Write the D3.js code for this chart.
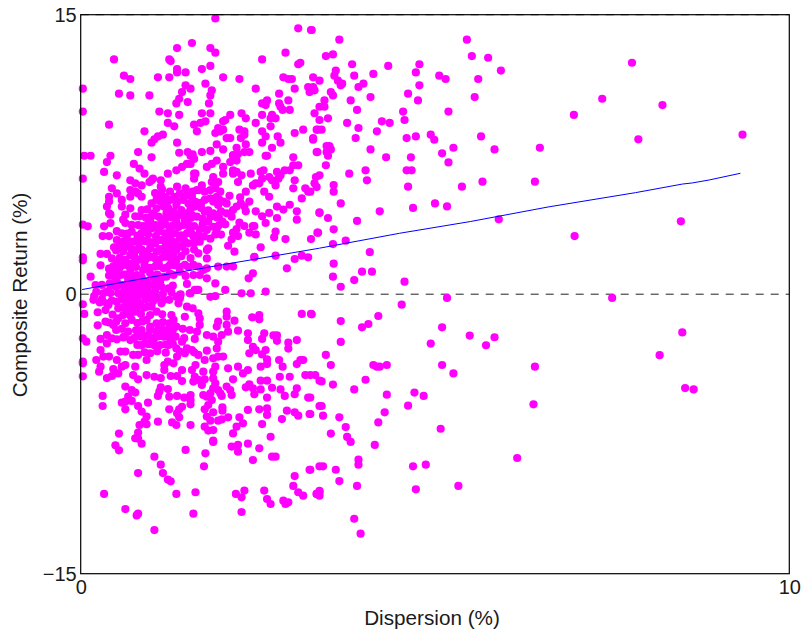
<!DOCTYPE html>
<html>
<head>
<meta charset="utf-8">
<script src="https://cdn.jsdelivr.net/npm/d3@7"></script>
<style>
    body { margin: 0; background: #fff; }
    text { font-family: "Liberation Sans", Arial, sans-serif; fill: #1a1a1a; }
</style>
</head>
<body>
<div id="chart"></div>
<script>
// [dispersion %, composite return %]
var points_upper = [[1.90,14.80],[3.07,14.27],[3.25,14.18],[1.57,13.48],[1.36,13.21],[1.83,13.21],[1.90,12.96],[.47,12.6],[1.25,12.6],[1.27,12.51],[2.56,12.6],[2.89,12.96],[3.10,12.42],[3.07,12.34],[1.83,12.25],[1.71,12.08],[1.36,12.08],[1.36,11.9],[1.48,11.9],[.61,11.73],[.70,11.55],[1.09,11.64],[1.25,11.64],[2.01,11.64],[2.24,11.55],[2.86,11.64],[2.93,11.55],[2.98,11.55],[3.28,11.64],[3.37,11.46],[.03,11.03],[1.48,11.21],[1.55,11.03],[1.76,11.3],[2.47,11.03],[3.02,11.03],[3.21,11.12],[3.28,11.12],[3.23,10.85],[3.30,10.94],[1.85,10.94],[1.43,10.85],[.54,10.76],[.70,10.67],[.97,10.67],[1.83,10.67],[2.80,10.76],[1.39,10.49],[1.51,10.31],[1.81,10.24],[1.35,10.24],[2.93,10.4],[2.63,10.4],[2.56,10.24],[2.61,10.15],[2.80,10.24],[2.82,10.06],[2.85,9.89],[2.95,9.89],[3.37,10.06],[.03,9.8],[1.11,9.8],[1.23,9.71],[1.39,9.62],[1.71,9.71],[1.83,9.71],[2.11,9.62],[2.27,9.71],[2.33,9.44],[2.56,9.62],[2.70,9.62],[2.68,9.44],[2.75,9.44],[3.30,9.71],[3.37,9.35],[.40,9.1],[1.23,9.19],[1.32,9.01],[1.60,9.1],[1.69,9.19],[1.76,9.28],[2.01,9.28],[2.04,9.35],[2.47,9.19],[2.68,9.01],[1.94,8.92],[2.01,8.83],[1.90,8.65],[1.97,8.74],[.90,8.74],[1.64,8.74],[2.24,8.83],[2.31,8.74],[2.56,8.74],[2.61,8.47],[3.14,8.83],[3.02,8.65],[3.33,8.83],[2.78,8.47],[3.28,8.38],[3.28,8.29],[1.16,8.56],[1.09,8.47],[1.04,8.31],[1.0,8.13],[1.36,8.13],[2.06,8.38],[2.11,8.38],[2.26,8.38],[2.31,8.56],[2.56,8.13],[2.82,8.13],[1.92,8.04],[2.33,8.04],[2.01,7.77],[2.20,7.86],[2.70,7.86],[1.39,7.59],[1.51,7.63],[1.58,7.51],[1.71,7.63],[1.83,7.69],[.81,7.63],[3.33,7.63],[2.15,7.47],[2.31,7.63],[2.38,7.63]];

var points_mid = [[.05,7.43],[.14,7.43],[.42,7.43],[.37,7.09],[1.0,7.35],[.75,6.99],[.33,6.56],[.51,6.38],[.83,6.74],[.9,6.47],[1.23,6.47],[.03,6.2],[1.55,7.43],[1.6,7.26],[1.5,6.99],[1.43,6.83],[1.35,6.65],[1.55,6.99],[1.6,6.47],[1.62,6.47],[1.6,6.2],[1.78,6.83],[1.85,6.99],[1.92,7.17],[2.01,6.83],[2.11,7.09],[2.15,7.43],[2.22,7.52],[2.61,7.43],[2.2,7.17],[2.63,7.43],[3.0,7.35],[3.0,6.92],[3.07,6.92],[2.88,6.65],[2.95,6.65],[2.77,6.56],[2.82,6.38],[2.54,6.56],[2.4,6.47],[2.58,6.65],[2.66,6.29],[2.7,6.11],[2.75,5.84],[2.79,6.2],[3.02,6.11],[3.0,5.68],[3.17,5.68],[3.21,5.5],[3.12,5.14],[2.95,4.8],[2.86,4.54],[2.77,4.7],[3.05,4.45],[3.05,4.0],[2.66,4.36],[2.77,4.09],[2.56,4.18],[2.61,3.82],[2.47,4.45],[2.33,4.45],[2.31,4.7],[2.38,4.97],[2.26,4.87],[2.33,5.5],[2.59,5.5],[2.66,5.23],[2.47,5.95],[2.43,5.84],[2.52,5.95],[2.56,6.2],[2.27,6.38],[2.15,6.65],[2.01,6.47],[1.87,6.29],[1.85,6.02],[2.22,6.02],[2.15,6.47],[2.2,6.56],[1.94,6.02],[1.71,5.84],[1.48,5.68],[1.36,5.77],[1.67,5.59],[1.58,5.5],[1.0,6.11],[1.02,6.2],[1.13,6.11],[1.13,5.77],[.97,6.02],[.7,6.11],[.77,5.95],[.86,5.84],[.7,5.59],[.44,5.68],[.51,5.41],[.77,5.5],[.81,5.41],[.86,5.23],[.7,5.23],[.4,5.23],[.58,5.06],[.4,4.97],[.37,4.7],[.58,4.7],[.7,4.61],[.4,4.34],[.42,4.27],[.86,4.52],[.77,4.18],[.83,4.18],[.63,4.27],[.6,4.0],[.42,3.82],[.63,3.82],[.33,3.64],[.03,3.73],[.1,3.64],[.51,3.38],[.31,3.12],[.4,3.12],[.47,2.52],[.28,2.16],[.37,2.16],[.03,1.98],[.03,1.82],[.28,1.55],[.4,1.37],[.44,1.19],[.14,.94],[.21,.49],[.49,1.12]];

var points_core = [[1.0,4.87],[1.07,5.06],[1.14,5.32],[1.19,5.23],[1.26,5.5],[1.33,5.23],[1.4,5.41],[1.5,5.32],[1.57,5.23],[1.64,5.59],[1.75,5.5],[1.83,5.59],[1.9,5.68],[1.97,5.5],[1.92,5.23],[1.83,5.14],[1.87,4.97],[1.94,4.79],[2.01,4.97],[2.06,4.87],[1.75,5.06],[1.64,4.79],[1.61,4.7],[1.52,4.87],[1.45,5.06],[1.35,4.79],[1.26,5.06],[1.17,4.7],[1.07,4.61],[1.03,4.34],[1.1,4.16],[.98,3.98],[1.05,3.71],[1.14,3.89],[1.21,4.34],[1.31,4.43],[1.4,4.25],[1.5,4.34],[1.57,4.25],[1.64,4.16],[1.75,4.43],[1.83,4.16],[1.8,3.89],[1.87,3.62],[1.78,3.45],[1.68,3.48],[1.54,3.45],[1.45,3.71],[1.35,3.89],[1.26,3.53],[1.19,3.27],[1.1,3.36],[1.0,3.53],[.91,3.45],[.81,3.71],[.72,3.36],[.65,3.0],[.58,3.27],[.51,2.91],[.56,2.64],[.65,2.55],[.74,2.82],[.84,3.0],[.95,2.82],[1.05,2.73],[1.14,2.91],[1.24,3.0],[1.33,3.27],[1.4,3.0],[1.5,3.27],[1.59,3.09],[1.66,3.18],[1.52,2.73],[1.43,2.55],[1.35,2.73],[1.26,2.55],[1.17,2.37],[1.07,2.28],[.98,2.46],[.88,2.19],[.79,2.37],[.7,2.1],[.63,1.84],[.72,1.66],[.81,1.84],[.91,1.84],[1.0,2.01],[1.1,1.75],[1.21,2.01],[1.31,2.19],[1.35,1.84],[1.47,1.57],[1.38,1.48],[1.26,1.57],[1.17,1.39],[1.05,1.48],[.98,1.12],[.88,1.3],[.79,1.03],[.7,1.3],[.6,1.57],[.51,1.66],[.44,1.92],[.56,1.03],[.67,.76],[.77,.67],[.93,.67],[1.03,.85],[1.12,.67],[1.21,.94],[1.31,1.03],[1.4,1.21],[1.59,1.57],[1.66,1.48],[1.73,1.3],[1.78,1.39],[1.59,1.03],[1.68,1.03],[1.78,.85],[1.9,.58],[2.04,.23],[1.61,.23],[1.66,.23],[1.54,.05],[1.4,-.04],[1.35,-.14],[1.14,.4],[1.24,.31],[.98,.49],[.91,.31],[.79,.31],[.72,.23],[.65,.4],[.51,.67],[.58,.49],[.41,.58],[.32,.05],[.19,-.1],[.37,.14],[.53,.05],[1.94,1.48],[2.06,1.48],[2.15,1.48],[2.37,.85],[2.43,1.12],[2.45,2.01],[2.91,1.39],[2.54,2.52],[2.17,2.28],[2.08,2.6],[1.66,2.19],[1.78,1.92],[1.78,2.37],[1.8,2.46],[2.89,2.96],[3.25,2.96],[3.34,3.3],[2.73,3.05],[2.75,3.36],[2.47,3.21],[2.43,3.66],[2.38,3.3],[2.13,2.95],[2.15,3.3],[2.22,3.12],[2.04,3.75],[1.9,3.21],[1.83,2.98],[1.92,3.53],[1.87,4.34],[2.13,4.16],[2.15,4.52],[2.06,4.34],[2.24,3.84],[2.31,3.66],[2.45,3.66],[3.02,1.89],[3.12,2.07],[3.21,1.98],[2.75,2.07],[2.45,1.98],[3.37,4.39],[2.27,.05],[2.4,.05],[2.61,.14],[1.83,-.14],[1.9,-.1],[1.55,.05],[1.64,.23],[1.41,-.01]];

// the solid middle of the cloud, where single dots can only be guessed
var points_core_fill = [[1.13,4.98],[1.22,4.92],[1.37,5.0],[1.62,4.95],[1.7,4.9],[.94,4.55],[1.24,4.6],[1.42,4.52],[1.55,4.58],[1.7,4.62],[1.8,4.5],[.92,4.1],[1.0,4.18],[1.18,4.05],[1.27,4.12],[1.35,4.2],[1.47,4.02],[1.56,4.1],[1.72,4.05],[1.92,4.12],[.72,3.72],[.88,3.66],[.95,3.75],[1.13,3.64],[1.2,3.74],[1.3,3.68],[1.38,3.6],[1.52,3.72],[1.6,3.66],[1.72,3.74],[1.95,3.7],[.66,3.25],[.8,3.15],[.86,3.28],[.95,3.2],[1.06,3.12],[1.22,3.14],[1.28,3.22],[1.42,3.16],[1.56,3.28],[1.74,3.1],[.6,2.82],[.68,2.75],[.82,2.72],[.9,2.85],[1.0,2.78],[1.09,2.9],[1.2,2.7],[1.3,2.82],[1.46,2.88],[1.6,2.74],[1.68,2.82],[.5,2.35],[.6,2.3],[.72,2.42],[.86,2.4],[.94,2.28],[1.12,2.42],[1.22,2.3],[1.35,2.38],[1.48,2.3],[1.6,2.4],[.55,1.95],[.76,2.02],[.86,1.9],[.96,1.98],[1.06,1.88],[1.16,2.0],[1.28,1.92],[1.42,2.04],[1.55,1.94],[.46,1.5],[.55,1.42],[.66,1.55],[.78,1.46],[.9,1.56],[.98,1.42],[1.11,1.52],[1.22,1.44],[1.32,1.56],[1.52,1.46],[.4,1.0],[.48,.92],[.62,1.05],[.72,.96],[.86,.9],[1.08,1.05],[1.16,.92],[1.26,1.1],[1.48,.98],[.3,.5],[.42,.46],[.5,.38],[.7,.52],[.84,.55],[.88,.44],[1.06,.5],[1.3,.46],[1.5,.55],[.22,.12],[.42,.06],[.6,.1],[.68,.16],[.76,.05],[.84,.12],[.96,.08],[1.05,.16],[1.16,.02],[1.28,.1],[1.15,5.62],[1.05,5.42],[1.95,5.1],[2.1,5.28],[2.25,5.2],[2.2,4.7],[1.98,4.45],[1.95,4.12],[2.0,3.9],[2.2,3.5],[1.98,3.2]];

var points_lower = [[.03,-.54],[.05,-1.06],[.24,-.97],[.24,-1.67],[.27,-.44],[.37,-.49],[.35,-.85],[.35,-1.47],[.39,-.58],[.51,-.4],[.53,-.76],[.7,-.04],[.79,-.13],[.88,-.04],[.98,-.13],[1.07,-.22],[1.17,-.31],[.65,-.49],[.74,-.58],[.84,-.49],[1.0,-.67],[1.07,-.94],[1.14,-.49],[.67,-.94],[.77,-.94],[.6,-1.12],[.53,-1.3],[.46,-1.65],[.72,-1.38],[.63,-1.56],[.67,-2.01],[.7,-2.46],[.37,-2.19],[.44,-2.37],[.51,-2.42],[.28,-2.4],[.03,-2.37],[.08,-2.55],[.37,-2.64],[.28,-3.0],[.32,-3.35],[.4,-3.35],[.22,-3.53],[.03,-3.62],[.03,-3.71],[.28,-3.89],[.26,-4.16],[.03,-4.41],[.56,-3.08],[.63,-3.08],[.74,-3.26],[.81,-3.26],[.86,-2.73],[.98,-3.17],[.93,-3.53],[.51,-3.53],[.63,-3.8],[.58,-3.89],[.77,-3.89],[.46,-4.02],[.53,-4.25],[.44,-4.39],[.37,-4.5],[.74,-4.34],[.81,-4.57],[.93,-4.34],[1.04,-4.43],[1.13,-4.5],[1.27,-4.39],[1.36,-4.39],[1.43,-4.66],[1.43,-4.07],[1.18,-3.8],[1.23,-3.62],[1.18,-4.07],[1.31,-3.71],[1.36,-3.35],[.63,-4.96],[.72,-5.14],[.77,-5.28],[.31,-5.46],[.31,-6.0],[.67,-5.5],[.63,-5.77],[.58,-5.82],[.63,-6.18],[.72,-5.73],[.81,-6.0],[.95,-5.82],[.86,-6.3],[.93,-6.57],[.9,-6.84],[.93,-6.98],[.83,-7.02],[1.09,-6.84],[1.25,-6.18],[1.39,-6.18],[1.43,-6.04],[1.36,-6.39],[1.39,-6.61],[1.29,-6.88],[1.35,-7.02],[1.55,-7.02],[1.13,-5.0],[1.23,-5.09],[1.11,-5.23],[1.09,-5.46],[1.25,-5.5],[1.36,-5.46],[1.46,-5.55],[1.55,-5.41],[1.55,-5.68],[1.55,-5.91],[.93,-1.38],[1.07,-1.56],[1.21,-1.92],[.98,-1.74],[.86,-1.92],[.95,-2.19],[1.07,-2.1],[1.17,-2.28],[.84,-2.28],[1.03,-2.46],[1.12,-2.73],[.91,-2.64],[1.26,-2.1],[1.35,-1.74],[1.28,-1.12],[1.31,-1.38],[1.47,-1.21],[1.38,-.49],[1.4,-.22],[1.5,-.67],[1.58,-.76],[1.66,-1.03],[1.68,-1.3],[1.68,-1.65],[1.54,-1.92],[1.64,-2.01],[1.61,-2.4],[1.43,-2.55],[1.35,-2.91],[1.24,-2.73],[1.5,-2.91],[1.47,-3.17],[1.57,-3.0],[1.66,-3.26],[1.78,-3.03],[1.75,-3.53],[1.87,-3.44],[1.94,-3.35],[2.01,-3.35],[1.92,-2.91],[1.94,-2.55],[1.78,-2.19],[1.87,-2.28],[1.92,-1.74],[1.94,-1.47],[2.06,-.94],[2.06,-1.21],[2.17,-1.42],[2.06,-1.65],[2.08,-2.01],[1.99,-2.19],[2.22,-1.96],[2.36,-2.1],[2.36,-2.46],[2.43,-2.82],[2.47,-3.0],[2.38,-3.17],[2.61,-3.0],[2.56,-3.23],[2.63,-3.5],[2.63,-3.75],[2.8,-3.53],[2.85,-3.89],[3.05,-3.75],[3.1,-3.53],[3.14,-3.53],[2.54,-3.89],[2.36,-4.07],[2.29,-4.25],[2.22,-3.89],[2.08,-3.98],[2.15,-4.57],[1.9,-3.89],[1.87,-4.16],[1.62,-3.8],[1.57,-4.07],[1.73,-4.16],[1.61,-4.43],[1.66,-4.6],[1.75,-4.57],[1.71,-4.87],[1.59,-4.69],[1.87,-4.52],[1.9,-4.78],[1.87,-5.05],[1.83,-5.32],[1.78,-5.5],[1.73,-5.41],[1.85,-5.68],[1.8,-5.95],[1.75,-6.18],[1.97,-5.32],[1.94,-5.14],[2.06,-4.96],[2.11,-5.14],[2.13,-5.41],[1.99,-5.46],[2.33,-5.0],[2.38,-4.84],[2.45,-5.37],[2.43,-5.05],[2.54,-4.64],[2.63,-4.64],[2.54,-5.11],[2.7,-5.02],[2.82,-5.11],[2.88,-5.46],[3.05,-5.05],[3.02,-5.37],[3.21,-5.55],[2.63,-5.55],[2.36,-6.21],[2.52,-6.18],[2.63,-6.13],[2.63,-6.48],[2.91,-6.25],[2.84,-6.7],[3.02,-6.34],[3.07,-6.52],[3.23,-6.43],[3.37,-6.0],[2.0,-6.07],[2.0,-6.25],[1.87,-6.34],[1.78,-6.57],[1.83,-6.79],[1.94,-6.79],[1.99,-6.72],[2.08,-6.61],[2.24,-6.61],[2.29,-6.93],[2.2,-7.11],[2.15,-7.47],[2.56,-6.97],[2.68,-7.65],[1.75,-7.11],[1.8,-7.32],[1.87,-7.29],[.54,-7.48],[.81,-7.43],[.77,-7.73],[1.87,-7.86],[2.42,-1.24],[2.52,-1.12],[2.52,-1.35],[3.12,-1.06],[3.25,-1.06],[2.72,-2.21],[2.77,-2.21],[2.77,-2.5],[2.93,-2.6],[2.93,-2.92],[3.05,-2.46],[2.59,-2.1],[2.56,-2.4],[2.95,-4.43],[2.81,-4.43],[3.17,-4.34],[3.24,-4.34],[3.31,-4.34],[3.37,-4.64]];

var points_lower_fill = [[.18,-.3],[.3,-.26],[.44,-.34],[.58,-.28],[.62,-.22],[.72,-.3],[.8,-.34],[.92,-.28],[1.02,-.38],[1.25,-.3],[.6,-.7],[.7,-.74],[.8,-.68],[.9,-.72],[.95,-.66],[.45,-1.1],[.7,-1.14],[.85,-1.06],[.98,-1.12],[1.15,-1.08],[.4,-1.52],[.5,-1.48],[.8,-1.55],[.87,-1.46],[1.16,-1.5],[1.25,-1.56],[.5,-1.92],[.58,-1.86],[.78,-1.94],[.98,-1.9],[1.08,-1.96],[1.14,-1.88],[1.3,-1.92],[1.44,-1.86],[.6,-2.32],[.62,-2.26],[.76,-2.34],[.9,-2.28],[1.0,-2.34],[1.1,-2.26],[1.25,-2.32],[1.34,-2.28],[1.46,-2.36],[.8,-2.72],[.96,-2.68],[1.04,-2.74],[1.2,-2.7],[1.3,-2.66],[.9,-3.12],[1.08,-3.06],[1.2,-3.14],[1.4,-3.08],[1.6,-3.12]];

var points_bottom = [[.81,-7.75],[.49,-8.11],[.54,-8.38],[.86,-8.02],[1.04,-8.72],[1.13,-9.15],[1.48,-8.36],[1.76,-8.54],[1.87,-7.93],[2.13,-8.18],[2.22,-8.09],[2.22,-8.45],[2.36,-8.02],[2.52,-8.27],[2.43,-8.9],[2.7,-8.72],[2.75,-8.72],[1.74,-9.24],[.81,-9.6],[1.16,-9.6],[1.23,-9.95],[1.27,-10.04],[.33,-10.72],[1.35,-10.72],[1.62,-10.63],[2.19,-10.72],[2.27,-10.9],[2.31,-10.54],[2.59,-10.54],[2.63,-10.99],[2.68,-11.26],[2.86,-11.08],[2.89,-11.26],[2.93,-11.17],[3.0,-10.29],[3.02,-9.76],[3.07,-10.63],[3.14,-10.81],[3.23,-9.42],[3.37,-9.24],[3.33,-10.72],[3.37,-10.63],[.63,-11.53],[.79,-11.87],[.81,-11.78],[1.59,-11.78],[2.27,-11.69],[1.04,-12.66]];

var points_right_top = [[3.26,14.18],[3.65,13.66],[3.46,12.78],[3.56,12.87],[3.83,12.34],[4.34,12.25],[3.6,12.0],[3.86,11.73],[4.13,11.82],[4.78,12.34],[4.73,11.9],[3.58,11.73],[3.63,11.46],[3.69,11.3],[3.67,11.21],[3.99,11.3],[3.92,11.12],[4.78,11.21],[3.53,10.85],[3.56,10.67],[4.09,10.58],[4.62,10.76],[3.44,10.4],[3.81,10.4],[4.76,10.4],[3.44,10.06],[3.9,9.89],[4.55,9.8],[3.49,9.44],[4.57,9.35],[3.76,9.19],[4.25,9.28],[4.36,9.19],[3.92,8.92],[4.18,8.74],[3.35,8.83],[3.4,8.83],[3.88,8.38],[4.6,8.38],[4.73,8.47],[4.94,8.56],[4.99,8.29],[3.47,7.95],[3.51,7.95],[3.53,7.77],[4.09,7.77],[5.26,7.86],[3.34,7.63],[3.47,7.63],[5.1,7.56],[5.06,11.73],[5.15,11.55],[5.45,13.66],[5.52,12.78],[5.75,12.69],[5.93,12.0],[5.61,11.55],[5.56,10.58],[5.19,9.8],[5.65,8.47],[5.84,7.77],[6.48,7.86],[3.49,7.43],[3.46,6.92],[3.37,6.38],[3.32,6.29],[3.3,5.95],[3.33,5.75],[3.57,5.86],[3.57,5.5],[3.24,5.5],[3.79,6.47],[4.02,6.65],[4.04,6.11],[4.31,7.35],[4.66,7.35],[5.19,7.07],[4.6,6.65],[4.67,6.65],[4.62,5.77],[5.38,5.77],[5.67,6.04],[6.41,6.04],[3.67,4.87],[3.37,4.36],[3.49,4.09],[4.22,4.45],[4.69,4.63],[5.0,4.87],[5.17,4.71],[3.9,3.93],[5.9,4.02],[3.57,3.48],[3.35,3.3],[3.74,2.87],[3.56,2.69],[4.08,2.26],[3.57,1.64],[3.56,.94],[3.97,1.21],[4.11,1.21],[3.86,.76],[3.67,.4],[4.57,.67]];

var points_right_low = [[5.17,-.2],[4.53,-.56],[3.26,-1.08],[3.67,-1.44],[4.2,-1.17],[4.06,-1.6],[3.97,-1.78],[5.1,-1.78],[5.49,-2.22],[5.84,-2.31],[5.72,-2.74],[4.94,-2.65],[3.67,-2.56],[3.46,-3.26],[3.53,-3.8],[4.13,-3.8],[4.18,-3.89],[4.22,-3.89],[4.32,-3.8],[5.1,-3.8],[5.26,-4.25],[6.41,-3.89],[3.4,-4.68],[3.56,-4.85],[3.86,-5.11],[4.02,-4.59],[4.32,-5.39],[4.71,-5.28],[4.84,-5.46],[4.62,-5.98],[6.39,-5.91],[3.24,-5.55],[3.4,-6.0],[3.24,-6.43],[3.42,-6.52],[3.65,-6.61],[4.29,-6.34],[4.2,-6.88],[5.08,-7.22],[3.74,-7.13],[3.53,-7.48],[3.76,-7.66],[3.81,-7.93],[4.15,-8.09],[6.16,-8.79],[3.92,-8.88],[3.92,-9.15],[4.87,-9.15],[4.69,-9.24],[3.42,-9.24],[3.24,-9.42],[3.6,-9.42],[3.65,-10.03],[3.9,-10.29],[4.73,-10.47],[5.33,-10.29],[3.37,-10.56],[3.33,-10.72],[3.37,-10.81],[3.86,-12.05],[3.95,-12.85]];

var points_far = [[7.78,12.42],[7.36,10.49],[6.96,9.62],[8.21,10.15],[7.87,8.31],[9.34,8.56],[6.97,3.12],[8.47,3.91],[7.5,-.2],[8.49,-2.05],[8.17,-3.27],[8.53,-5.04],[8.65,-5.11]];

var fit_line = [[.02,.25],[1,.92],[2,1.58],[3.37,2.47],[4.5,3.27],[5.5,3.9],[6.61,4.69],[7.83,5.45],[8.49,5.91],[8.63,5.97],[8.87,6.13],[9.31,6.49]];

var x_ticks = [0, 10];
var y_ticks = [-15, 0, 15];

const width = 803;
const height = 634;

var svg = d3.select("#chart")
    .append("svg")
    .attr("width", width)
    .attr("height", height);

var x = d3.scaleLinear().domain([0, 10]).range([80.7, 789.3]);
var y = d3.scaleLinear().domain([-15, 15]).range([573.7, 14.7]);

const all_points = points_upper.concat(points_mid, points_core, points_core_fill, points_lower,
    points_lower_fill, points_bottom, points_right_top, points_right_low, points_far);

// zero line and top line, both dashed
svg.selectAll("line.ref")
    .data([0, 15])
    .enter()
    .append("line")
    .attr("class", "ref")
    .attr("x1", x(0))
    .attr("x2", x(10))
    .attr("y1", function (d) { return y(d); })
    .attr("y2", function (d) { return y(d); })
    .attr("stroke", "#222")
    .attr("stroke-width", 1)
    .attr("stroke-dasharray", "8,7");

svg.selectAll("circle.dot")
    .data(all_points)
    .enter()
    .append("circle")
    .attr("class", "dot")
    .attr("cx", function (d) { return x(d[0]); })
    .attr("cy", function (d) { return y(d[1]); })
    .attr("r", 4.1)
    .attr("fill", "#ff00ff");

svg.append("path")
    .datum(fit_line)
    .attr("fill", "none")
    .attr("stroke", "#0000ff")
    .attr("stroke-width", 1)
    .attr("d", d3.line()
        .x(function (d) { return x(d[0]); })
        .y(function (d) { return y(d[1]); }));

// frame
svg.append("rect")
    .attr("x", x(0))
    .attr("y", y(15))
    .attr("width", x(10) - x(0))
    .attr("height", y(-15) - y(15))
    .attr("fill", "none")
    .attr("stroke", "#000")
    .attr("stroke-width", 1.2);

var x_axis = svg.append("g")
    .attr("transform", "translate(0," + y(-15) + ")")
    .call(d3.axisBottom(x).tickValues(x_ticks).tickSize(0).tickPadding(6).tickFormat(d3.format("d")));

var y_axis = svg.append("g")
    .attr("transform", "translate(" + x(0) + ",0)")
    .call(d3.axisLeft(y).tickValues(y_ticks).tickSize(0).tickPadding(4).tickFormat(d3.format("d")));

x_axis.select(".domain").remove();
y_axis.select(".domain").remove();
x_axis.attr("font-size", null).attr("font-family", null);
y_axis.attr("font-size", null).attr("font-family", null);
svg.selectAll(".tick text").style("font-size", "20px");

svg.append("text")
    .attr("x", 432)
    .attr("y", 625)
    .attr("text-anchor", "middle")
    .style("font-size", "20.7px")
    .text("Dispersion (%)");

svg.append("text")
    .attr("transform", "translate(27,295) rotate(-90)")
    .attr("text-anchor", "middle")
    .style("font-size", "20.7px")
    .text("Composite Return (%)");
</script>
</body>
</html>
